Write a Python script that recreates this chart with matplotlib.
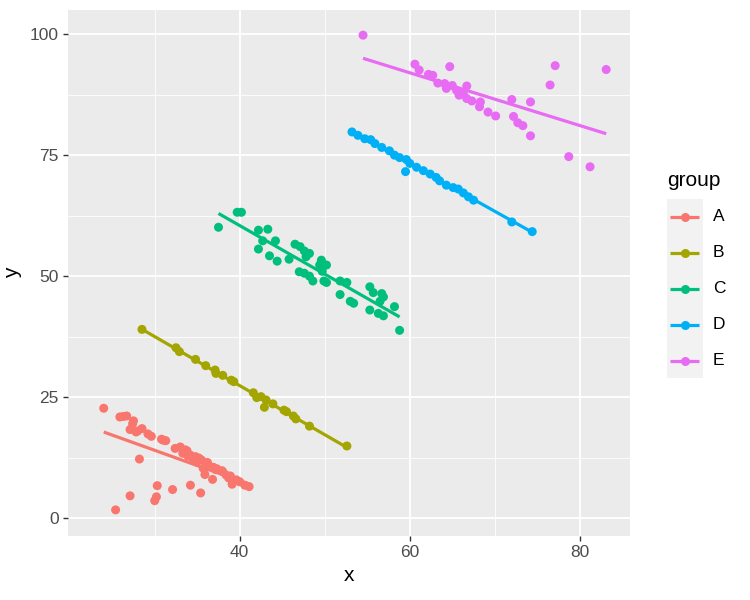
import numpy as np
import matplotlib
matplotlib.use("Agg")
import matplotlib.pyplot as plt
from matplotlib.patches import Rectangle

plt.rcParams['font.family'] = ['Liberation Sans', 'DejaVu Sans']

groups = ["A", "B", "C", "D", "E"]
colors = ["#F8766D", "#A3A500", "#00BF7D", "#00B0F6", "#E76BF3"]

a_x = [24.0, 25.9, 26.7, 27.5, 27.1, 27.8, 28.5, 29.6, 30.8, 31.3, 32.4, 33.0, 33.3, 33.9, 34.5,
       34.9, 35.7, 36.3, 36.9, 36.8, 37.9, 38.4, 39.1, 40.0, 40.6, 41.1, 28.2, 30.3, 30.2, 30.0,
       32.1, 34.2, 35.4, 27.1, 25.4, 33.6, 34.2, 35.2, 36.0, 37.2, 38.7,
       33.8, 34.8, 35.5, 36.2, 37.3, 38.0, 38.9, 39.6, 35.9,
       26.3, 27.4, 28.0, 29.2, 31.0]
a_y = [22.7, 20.9, 21.1, 20.1, 18.3, 17.8, 18.5, 16.9, 16.3, 16.0, 14.4, 14.7, 13.4, 12.8, 12.3,
       11.6, 10.3, 11.0, 10.5, 8.0, 9.8, 8.9, 7.0, 7.5, 6.8, 6.5, 12.2, 6.7, 4.4, 3.6,
       5.9, 6.8, 5.2, 4.6, 1.7, 14.1, 13.0, 12.4, 10.6, 10.0, 8.3,
       13.9, 12.7, 12.0, 11.5, 10.2, 9.6, 8.7, 7.9, 9.0,
       21.0, 19.5, 18.0, 17.4, 16.1]

b_x = [28.5, 32.5, 32.9, 34.8, 36.0, 37.1, 37.2, 38.0, 39.0, 39.3, 41.6, 42.0, 42.5, 43.1, 42.9,
       43.9, 45.2, 45.5, 46.3, 46.6, 48.2, 52.6]
b_y = [39.0, 35.2, 34.4, 32.8, 31.5, 30.6, 29.9, 29.5, 28.5, 28.2, 25.9, 24.9, 25.1, 24.4, 22.9,
       23.6, 22.3, 22.0, 21.1, 20.5, 19.0, 14.9]

c_x = [37.5, 39.7, 40.2, 42.2, 43.3, 42.7, 44.2, 42.2, 43.5, 44.4, 45.8, 46.5, 47.1, 47.6, 48.2,
       47.8, 47.0, 47.6, 48.2, 48.6, 49.6, 49.4, 50.2, 49.7, 49.9, 50.2, 51.8, 52.6, 51.8, 53.0,
       53.4, 55.3, 55.7, 56.7, 56.9, 56.5, 55.3, 56.3, 56.9, 58.2, 58.8]
c_y = [60.1, 63.2, 63.2, 59.5, 59.7, 57.3, 57.3, 55.6, 54.2, 53.1, 53.5, 56.6, 56.1, 55.2, 54.7,
       54.0, 50.9, 50.6, 50.0, 49.0, 53.3, 52.3, 52.3, 51.0, 49.0, 48.7, 49.0, 48.7, 46.2, 44.8,
       44.4, 47.8, 46.6, 46.4, 45.7, 44.8, 43.0, 42.3, 41.8, 43.7, 38.8]

d_x = [53.2, 53.9, 54.7, 55.4, 55.9, 56.7, 57.6, 58.2, 58.8, 59.6, 60.0, 59.5, 60.8, 61.6, 62.4,
       63.1, 63.5, 64.3, 65.1, 65.7, 66.3, 66.9, 67.5, 72.0, 74.4]
d_y = [79.8, 79.1, 78.4, 78.2, 77.4, 76.6, 75.9, 75.0, 74.5, 74.1, 73.3, 71.6, 72.5, 71.8, 71.1,
       70.4, 69.7, 68.8, 68.3, 68.0, 67.2, 66.4, 65.7, 61.2, 59.2]

e_x = [54.5, 60.6, 61.1, 62.2, 62.7, 63.3, 64.1, 64.3, 64.7, 65.0, 65.5, 65.8, 66.3, 66.7, 66.7,
       67.3, 68.3, 68.2, 69.2, 70.1, 72.0, 72.2, 72.7, 73.3, 74.2, 74.2, 76.5, 77.1, 83.1, 78.7, 81.2]
e_y = [99.8, 93.8, 92.6, 91.7, 91.5, 89.9, 89.8, 88.8, 93.3, 89.4, 88.4, 87.4, 87.7, 89.3, 86.7,
       86.2, 86.0, 85.0, 83.9, 83.1, 86.5, 83.0, 81.7, 81.1, 79.0, 86.0, 89.5, 93.5, 92.7, 74.7, 72.6]

xs = [a_x, b_x, c_x, d_x, e_x]
ys = [a_y, b_y, c_y, d_y, e_y]

W, H = 750, 600
fig = plt.figure(figsize=(7.5, 6), dpi=100)
fig.patch.set_facecolor("white")
L, R, T, B = 68, 630, 10, 536
ax = fig.add_axes([L / W, 1 - B / H, (R - L) / W, (B - T) / H])
ax.set_facecolor("#EBEBEB")
for s in ax.spines.values():
    s.set_visible(False)

ax.set_xlim(19.8, 85.9)
ax.set_ylim(-3.7, 105)
ax.set_xticks([40, 60, 80])
ax.set_yticks([0, 25, 50, 75, 100])
ax.set_xticks([30, 50, 70], minor=True)
ax.set_yticks([12.5, 37.5, 62.5, 87.5], minor=True)
ax.grid(which="major", color="white", lw=1.3)
ax.grid(which="minor", color="white", lw=0.6)
ax.set_axisbelow(True)
ax.tick_params(which="major", length=3.5, width=1.0, color="#333333", labelsize=12.5,
               labelcolor="#4D4D4D", pad=3)
ax.tick_params(which="minor", length=0)

for gx, gy, c in zip(xs, ys, colors):
    gx = np.array(gx); gy = np.array(gy)
    ax.scatter(gx, gy, s=42, color=c, edgecolors="none", zorder=3)
    m, b0 = np.polyfit(gx, gy, 1)
    xx = np.array([gx.min(), gx.max()])
    ax.plot(xx, m * xx + b0, color=c, lw=2.3, zorder=4, solid_capstyle="butt")

ax.set_xlabel("x", fontsize=15, labelpad=4)
ax.set_ylabel("y", fontsize=15, labelpad=6)

lax = fig.add_axes([0, 0, 1, 1], facecolor="none")
lax.set_xlim(0, W); lax.set_ylim(H, 0)
lax.axis("off")
lax.text(667, 180, "group", fontsize=15, va="center", ha="left")
lax.add_patch(Rectangle((667, 199), 36, 179, facecolor="#F2F2F2", edgecolor="none"))
for i, (g, c) in enumerate(zip(groups, colors)):
    yc = 216.7 + 36 * i
    lax.plot([670, 699], [yc, yc], color=c, lw=2.3, solid_capstyle="butt")
    lax.plot([684.5], [yc], "o", color=c, ms=6.5, mec="none")
    lax.text(713, yc, g, fontsize=12.5, va="center", ha="left")

fig.savefig("out.png", dpi=100)
